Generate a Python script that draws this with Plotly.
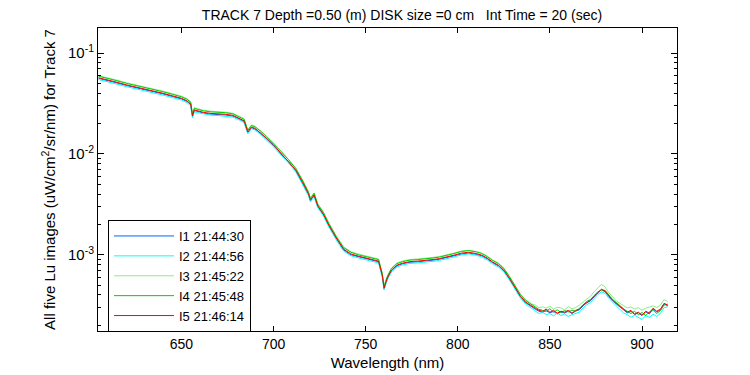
import plotly.graph_objects as go

wavelength = [605, 610, 615, 620, 625, 630, 635, 640, 645, 650, 653, 655, 656, 657, 659, 662, 666, 670, 674, 678,
              681, 684, 686, 687, 688, 690, 693, 696, 700, 704, 708, 712, 716, 719, 720, 722, 724, 727, 730, 734,
              738, 742, 746, 750, 754, 757, 759, 760, 761, 762, 764, 767, 770, 774, 778, 782, 786, 790, 794, 798,
              802, 806, 810, 813, 816, 819, 822, 825, 828, 831, 834, 837, 840,
              842, 844, 846, 848, 850, 852, 854, 856, 858, 860, 862, 864, 866, 868, 870, 872, 874, 876, 878, 880,
              882, 884, 886, 888, 890, 892, 894, 896, 898, 900, 902, 904, 906, 908, 910, 912, 914]

lu_i1 = [0.0560, 0.0535, 0.0505, 0.0477, 0.0456, 0.0435, 0.0416, 0.0393, 0.0371, 0.0351, 0.0331, 0.0309, 0.0234,
         0.0269, 0.0263, 0.0254, 0.0248, 0.0246, 0.0243, 0.0237, 0.0225, 0.0210, 0.0163, 0.0170, 0.0182, 0.0176,
         0.0160, 0.0142, 0.0121, 0.0100, 0.00839, 0.00684, 0.00507, 0.00395, 0.00344, 0.00386, 0.00300, 0.00250,
         0.00194, 0.00145, 0.00112, 0.00100, 0.000956, 0.000913, 0.000883, 0.000853, 0.000619, 0.000460, 0.000528,
         0.000592, 0.000694, 0.000778, 0.000815, 0.000843, 0.000853, 0.000863, 0.000883, 0.000903, 0.000935,
         0.000978, 0.00102, 0.00104, 0.00101, 0.000978, 0.000913, 0.000833, 0.000778, 0.000694, 0.000578,
         0.000471, 0.000383, 0.000334, 0.000305,
         0.000290, 0.000276, 0.000270, 0.000280, 0.000266, 0.000275, 0.000260, 0.000272, 0.000265, 0.000276,
         0.000262, 0.000278, 0.000285, 0.000312, 0.000335, 0.000350, 0.000385, 0.000420, 0.000450, 0.000430,
         0.000385, 0.000350, 0.000326, 0.000305, 0.000285, 0.000266, 0.000276, 0.000256, 0.000266, 0.000250,
         0.000272, 0.000260, 0.000290, 0.000272, 0.000285, 0.000325, 0.000312]

lu_i2 = [0.0546, 0.0521, 0.0492, 0.0465, 0.0444, 0.0424, 0.0405, 0.0383, 0.0362, 0.0342, 0.0323, 0.0301, 0.0228,
         0.0262, 0.0256, 0.0248, 0.0242, 0.0240, 0.0237, 0.0231, 0.0219, 0.0204, 0.0158, 0.0166, 0.0178, 0.0172,
         0.0156, 0.0138, 0.0118, 0.00979, 0.00818, 0.00666, 0.00494, 0.00385, 0.00335, 0.00376, 0.00293, 0.00244,
         0.00189, 0.00141, 0.00109, 0.000979, 0.000932, 0.000890, 0.000860, 0.000831, 0.000603, 0.000448, 0.000515,
         0.000577, 0.000677, 0.000758, 0.000794, 0.000822, 0.000831, 0.000841, 0.000860, 0.000880, 0.000911,
         0.000953, 0.000998, 0.00102, 0.000989, 0.000953, 0.000890, 0.000812, 0.000758, 0.000677, 0.000564,
         0.000459, 0.000373, 0.000325, 0.000298,
         0.000280, 0.000262, 0.000270, 0.000255, 0.000262, 0.000248, 0.000265, 0.000250, 0.000258, 0.000245,
         0.000255, 0.000262, 0.000270, 0.000298, 0.000320, 0.000336, 0.000372, 0.000405, 0.000430, 0.000415,
         0.000372, 0.000338, 0.000312, 0.000288, 0.000265, 0.000255, 0.000240, 0.000252, 0.000238, 0.000228,
         0.000250, 0.000240, 0.000258, 0.000245, 0.000262, 0.000300, 0.000305]

lu_i3 = [0.0597, 0.0570, 0.0539, 0.0508, 0.0486, 0.0464, 0.0443, 0.0419, 0.0396, 0.0374, 0.0353, 0.0330, 0.0250,
         0.0287, 0.0280, 0.0271, 0.0265, 0.0263, 0.0259, 0.0253, 0.0239, 0.0224, 0.0173, 0.0182, 0.0194, 0.0188,
         0.0170, 0.0151, 0.0129, 0.0107, 0.00895, 0.00729, 0.00541, 0.00421, 0.00366, 0.00412, 0.00320, 0.00267,
         0.00207, 0.00154, 0.00120, 0.00107, 0.00102, 0.000973, 0.000941, 0.000909, 0.000659, 0.000490, 0.000563,
         0.000631, 0.000740, 0.000830, 0.000868, 0.000899, 0.000909, 0.000920, 0.000941, 0.000963, 0.000996,
         0.00104, 0.00109, 0.00111, 0.00108, 0.00104, 0.000973, 0.000888, 0.000830, 0.000740, 0.000616,
         0.000502, 0.000408, 0.000356, 0.000326,
         0.000318, 0.000300, 0.000305, 0.000296, 0.000310, 0.000290, 0.000302, 0.000298, 0.000285, 0.000306,
         0.000292, 0.000300, 0.000318, 0.000340, 0.000365, 0.000388, 0.000430, 0.000470, 0.000510, 0.000480,
         0.000420, 0.000385, 0.000350, 0.000330, 0.000315, 0.000298, 0.000305, 0.000290, 0.000300, 0.000282,
         0.000296, 0.000305, 0.000312, 0.000300, 0.000318, 0.000360, 0.000345]

lu_i4 = [0.0589, 0.0562, 0.0531, 0.0501, 0.0479, 0.0457, 0.0437, 0.0413, 0.0390, 0.0368, 0.0348, 0.0325, 0.0246,
         0.0283, 0.0276, 0.0267, 0.0261, 0.0259, 0.0256, 0.0249, 0.0236, 0.0220, 0.0171, 0.0179, 0.0191, 0.0185,
         0.0168, 0.0149, 0.0127, 0.0106, 0.00882, 0.00718, 0.00533, 0.00415, 0.00361, 0.00406, 0.00316, 0.00263,
         0.00204, 0.00152, 0.00118, 0.00106, 0.00100, 0.000959, 0.000927, 0.000896, 0.000650, 0.000483, 0.000555,
         0.000622, 0.000730, 0.000818, 0.000856, 0.000886, 0.000896, 0.000907, 0.000927, 0.000949, 0.000982,
         0.00103, 0.00108, 0.00110, 0.00107, 0.00103, 0.000959, 0.000876, 0.000818, 0.000730, 0.000608,
         0.000495, 0.000403, 0.000351, 0.000321,
         0.000300, 0.000288, 0.000282, 0.000276, 0.000292, 0.000270, 0.000285, 0.000268, 0.000280, 0.000272,
         0.000283, 0.000275, 0.000295, 0.000322, 0.000345, 0.000360, 0.000398, 0.000430, 0.000448, 0.000445,
         0.000400, 0.000362, 0.000338, 0.000312, 0.000292, 0.000275, 0.000262, 0.000275, 0.000255, 0.000268,
         0.000250, 0.000272, 0.000285, 0.000262, 0.000280, 0.000318, 0.000325]

lu_i5 = [0.0569, 0.0543, 0.0513, 0.0484, 0.0463, 0.0442, 0.0422, 0.0399, 0.0377, 0.0356, 0.0336, 0.0314, 0.0238,
         0.0273, 0.0267, 0.0258, 0.0252, 0.0250, 0.0247, 0.0241, 0.0228, 0.0213, 0.0165, 0.0173, 0.0185, 0.0179,
         0.0162, 0.0144, 0.0123, 0.0102, 0.00852, 0.00694, 0.00515, 0.00401, 0.00349, 0.00392, 0.00305, 0.00254,
         0.00197, 0.00147, 0.00114, 0.00102, 0.000971, 0.000927, 0.000896, 0.000866, 0.000628, 0.000467, 0.000536,
         0.000601, 0.000705, 0.000790, 0.000827, 0.000856, 0.000866, 0.000876, 0.000896, 0.000917, 0.000949,
         0.000993, 0.00104, 0.00106, 0.00103, 0.000993, 0.000927, 0.000846, 0.000790, 0.000705, 0.000587,
         0.000478, 0.000389, 0.000339, 0.000310,
         0.000296, 0.000282, 0.000276, 0.000289, 0.000270, 0.000282, 0.000264, 0.000276, 0.000270, 0.000282,
         0.000264, 0.000282, 0.000289, 0.000317, 0.000339, 0.000355, 0.000389, 0.000426, 0.000456, 0.000436,
         0.000389, 0.000355, 0.000331, 0.000310, 0.000289, 0.000270, 0.000282, 0.000258, 0.000270, 0.000252,
         0.000276, 0.000264, 0.000296, 0.000276, 0.000289, 0.000331, 0.000317]

series_names = ["I1 21:44:30", "I2 21:44:56", "I3 21:45:22", "I4 21:45:48", "I5 21:46:14"]
series_colors = ["#0066ff", "#00ffff", "#88ee88", "#00cc00", "#ff0000"]
series_values = [lu_i1, lu_i2, lu_i3, lu_i4, lu_i5]

y_tickvals = [0.1, 0.01, 0.001]
y_ticktext = ["10<sup>-1</sup>", "10<sup>-2</sup>", "10<sup>-3</sup>"]
y_minor_tickvals = [2e-4, 3e-4, 4e-4, 5e-4, 6e-4, 7e-4, 8e-4, 9e-4,
                    2e-3, 3e-3, 4e-3, 5e-3, 6e-3, 7e-3, 8e-3, 9e-3,
                    2e-2, 3e-2, 4e-2, 5e-2, 6e-2, 7e-2, 8e-2, 9e-2]
x_tickvals = [650, 700, 750, 800, 850, 900]

fig = go.Figure()
for name, color, vals in zip(series_names, series_colors, series_values):
    fig.add_trace(go.Scatter(x=wavelength, y=vals, mode="lines", name=name,
                             line=dict(color=color, width=1)))

# invisible trace on the overlay axis that carries the minor log ticks
fig.add_trace(go.Scatter(x=[wavelength[0]], y=[lu_i5[0]], yaxis="y2", mode="markers",
                         marker=dict(opacity=0), showlegend=False, hoverinfo="skip"))

# the page body adds an 8 px offset, so the figure is 742x367 placed at (8, 8)
W, H = 742, 367
L, R, T, B = 90, 72.5, 20, 44
plot_w = W - L - R
plot_h = H - T - B

font_family = "Liberation Sans, Arial, sans-serif"
y_range = [-3.755, -0.752]
fig.update_layout(
    width=W, height=H,
    margin=dict(l=L, r=R, t=T, b=B, autoexpand=False),
    paper_bgcolor="white", plot_bgcolor="white",
    font=dict(family=font_family, size=14, color="black"),
    title=dict(text="TRACK 7 Depth =0.50 (m) DISK size =0 cm\u00a0\u00a0 Int Time = 20 (sec)",
               xref="container", yref="container",
               x=394 / W, xanchor="center", y=1 - 7 / H, yanchor="middle",
               font=dict(size=14)),
    showlegend=True,
    legend=dict(x=(100 - L) / plot_w, y=(H - B - 212) / plot_h, xanchor="left", yanchor="top",
                bordercolor="black", borderwidth=1, bgcolor="white",
                font=dict(size=13), itemwidth=60, tracegroupgap=0),
    yaxis2=dict(type="log", range=y_range, overlaying="y", side="left",
                tickvals=y_minor_tickvals, ticks="inside", ticklen=3, tickcolor="black",
                showticklabels=False, showline=False, showgrid=False, zeroline=False,
                mirror="ticks", automargin=False),
    yaxis=dict(type="log", range=y_range, tickvals=y_tickvals, ticktext=y_ticktext,
               ticks="inside", ticklen=6, tickcolor="black",
               showline=True, linecolor="black", linewidth=1, mirror="ticks",
               showgrid=False, zeroline=False, automargin=False, tickfont=dict(size=15),
               title=dict(text="All five Lu images (uW/cm<sup>2</sup>/sr/nm) for Track 7",
                          standoff=8, font=dict(size=15))),
    xaxis=dict(range=[604.7, 919], tickvals=x_tickvals, ticks="inside", ticklen=5, tickcolor="black",
               showline=True, linecolor="black", linewidth=1, mirror="ticks",
               showgrid=False, zeroline=False, automargin=False, tickfont=dict(size=14),
               title=dict(text="Wavelength (nm)", standoff=6, font=dict(size=15))),
)

fig.write_html("out.html")
